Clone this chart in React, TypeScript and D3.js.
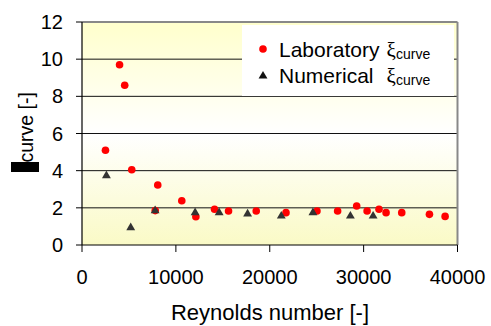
import React from 'react'
import * as d3 from 'd3'

// Laboratory measurements (red dots)
const labRe = [2500, 4000, 4550, 5300, 7800, 8070, 10630, 12130, 14120, 15610, 18560, 21730, 25030, 27230, 29260, 30370, 31640, 32390, 34060, 37010, 38680]
const labXi = [5.1, 9.7, 8.6, 4.05, 1.85, 3.23, 2.38, 1.52, 1.92, 1.83, 1.83, 1.74, 1.83, 1.83, 2.1, 1.83, 1.92, 1.74, 1.74, 1.65, 1.54]

// Numerical results (dark triangles)
const numRe = [2600, 5190, 7790, 12050, 14610, 17640, 21230, 24600, 28590, 31010]
const numXi = [3.73, 0.93, 1.85, 1.74, 1.74, 1.67, 1.56, 1.74, 1.56, 1.56]

const xTicks = [0, 10000, 20000, 30000, 40000]
const yTicks = [0, 2, 4, 6, 8, 10, 12]

const legendItems = ['Laboratory', 'Numerical']

export default function App() {
  const width = 491
  const height = 326
  const font = '"Liberation Sans", Arial, sans-serif'

  const x = d3.scaleLinear().domain([0, 40000]).range([82, 457.5])
  const y = d3.scaleLinear().domain([0, 12]).range([245, 22])

  const tri = d3.symbol().type(d3.symbolTriangle).size(34)()

  const [x0, x1] = x.range()
  const [y0, y1] = y.range()

  return (
    <svg width={width} height={height} style={{ position: 'absolute', left: 0, top: 0 }} fontFamily={font}>
      <defs>
        <linearGradient id="bg" x1="0" y1="0" x2="0" y2="1">
          <stop offset="0%" stopColor="#ffffcc" />
          <stop offset="50%" stopColor="#ffffff" />
          <stop offset="100%" stopColor="#fafac6" />
        </linearGradient>
      </defs>
      <rect width={width} height={height} fill="#fff" />
      <rect x={x0} y={y1} width={x1 - x0} height={y0 - y1} fill="url(#bg)" />

      {/* gridlines */}
      {yTicks.filter(t => t > 0 && t < 12).map(t => (
        <line key={t} x1={x0} x2={x1} y1={y(t)} y2={y(t)} stroke="#111" strokeWidth={1} />
      ))}

      {/* plot border (top / right) */}
      <line x1={x0} x2={x1} y1={y1} y2={y1} stroke="#888" strokeWidth={2} />
      <line x1={x1} x2={x1} y1={y1} y2={y0} stroke="#888" strokeWidth={2} />

      {/* axes */}
      <line x1={x0} x2={x0} y1={y1} y2={y0} stroke="#000" strokeWidth={1.2} />
      <line x1={x0} x2={x1} y1={y0} y2={y0} stroke="#000" strokeWidth={1.2} />
      {yTicks.map(t => (
        <g key={t}>
          <line x1={x0 - 6} x2={x0} y1={y(t)} y2={y(t)} stroke="#000" />
          <text x={63} y={y(t) + 7} fontSize={20} textAnchor="end" fill="#000">{t}</text>
        </g>
      ))}
      {xTicks.map(t => (
        <g key={t}>
          <line x1={x(t)} x2={x(t)} y1={y0} y2={y0 + 7} stroke="#000" />
          <text x={x(t)} y={284} fontSize={20} textAnchor="middle" fill="#000">{t}</text>
        </g>
      ))}

      {/* data */}
      {labRe.map((r, i) => (
        <circle key={'l' + i} cx={x(r)} cy={y(labXi[i])} r={3.8} fill="#ff0000" />
      ))}
      {numRe.map((r, i) => (
        <path key={'n' + i} d={tri} transform={`translate(${x(r)},${y(numXi[i])})`} fill="#333" />
      ))}

      {/* legend */}
      <rect x={242} y={25} width={212} height={71} fill="#fff" />
      {legendItems.map((name, i) => {
        const cy = 49 + i * 26
        return (
          <g key={name}>
            {i === 0
              ? <circle cx={263} cy={cy} r={3.8} fill="#ff0000" />
              : <path d={tri} transform={`translate(263,${cy + 1})`} fill="#111" />}
            <text x={279} y={cy + 8} fontSize={21} fill="#000">{name}</text>
            <text x={386.5} y={cy + 8} fontSize={21} fill="#000" fontFamily='"Liberation Serif", serif'>ξ</text>
            <text x={396} y={cy + 10} fontSize={14} fill="#000">curve</text>
          </g>
        )
      })}

      {/* axis titles */}
      <text x={270} y={320} fontSize={22} textAnchor="middle" fill="#000">Reynolds number [-]</text>
      <rect x={11} y={162} width={28} height={10} fill="#000" />
      <text transform="translate(33,162.5) rotate(-90)" fontSize={19.5} fill="#000">curve [-]</text>
    </svg>
  )
}
